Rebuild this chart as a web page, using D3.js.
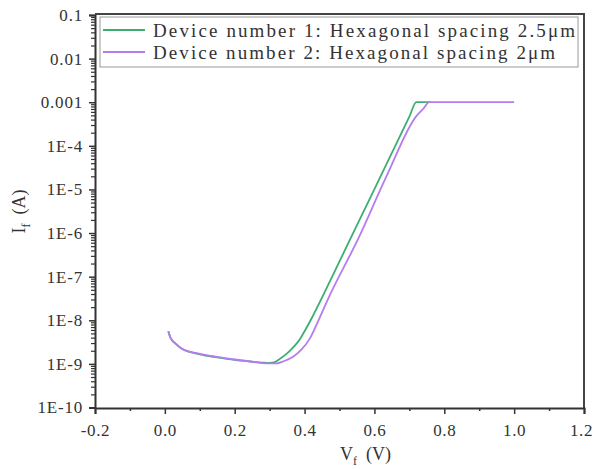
<!DOCTYPE html>
<html>
<head>
  <meta charset="utf-8">
  <script type="text/javascript" src="https://d3js.org/d3.v7.min.js" charset="utf-8"></script>
  <style>
    body { margin: 0; background: #fff; }
    text { font-family: "Liberation Serif", "DejaVu Serif", serif; fill: #333; }
  </style>
</head>
<body>
<div id="iv_chart"></div>

<script>
// data: forward voltage (V) and forward current (A)
var voltage1 = [0.01, 0.015, 0.02, 0.03, 0.05, 0.10, 0.15, 0.20, 0.25, 0.28, 0.30, 0.315, 0.33, 0.35, 0.37, 0.387, 0.40, 0.42, 0.453, 0.50, 0.60, 0.70, 0.72, 0.76];
var current1 = [5.62e-9, 4.17e-9, 3.55e-9, 2.95e-9, 2.19e-9, 1.66e-9, 1.41e-9, 1.23e-9, 1.12e-9, 1.07e-9, 1.05e-9, 1.10e-9, 1.32e-9, 1.74e-9, 2.51e-9, 3.72e-9, 5.62e-9, 1.10e-8, 3.72e-8, 2.24e-7, 1.02e-5, 4.68e-4, 1.0e-3, 1.0e-3];

var voltage2 = [0.01, 0.015, 0.02, 0.03, 0.05, 0.10, 0.15, 0.20, 0.25, 0.29, 0.32, 0.34, 0.367, 0.39, 0.415, 0.44, 0.472, 0.553, 0.635, 0.72, 0.74, 0.757, 1.0];
var current2 = [5.62e-9, 4.17e-9, 3.55e-9, 2.95e-9, 2.19e-9, 1.70e-9, 1.45e-9, 1.26e-9, 1.12e-9, 1.03e-9, 1.03e-9, 1.15e-9, 1.45e-9, 2.09e-9, 3.80e-9, 1.0e-8, 3.72e-8, 7.24e-7, 2.04e-5, 4.79e-4, 7.08e-4, 1.0e-3, 1.0e-3];

var seriesNames = ["Device number 1: Hexagonal spacing 2.5\u03bcm",
                   "Device number 2: Hexagonal spacing 2\u03bcm"];
var seriesColors = ["#3dae72", "#b57cf0"];

var xTicks = [-0.2, 0.0, 0.2, 0.4, 0.6, 0.8, 1.0, 1.2];
var xTickLabels = ["-0.2", "0.0", "0.2", "0.4", "0.6", "0.8", "1.0", "1.2"];
var xMinor = [-0.1, 0.1, 0.3, 0.5, 0.7, 0.9, 1.1];
var yTicks = [1e-1, 1e-2, 1e-3, 1e-4, 1e-5, 1e-6, 1e-7, 1e-8, 1e-9, 1e-10];
var yTickLabels = ["0.1", "0.01", "0.001", "1E-4", "1E-5", "1E-6", "1E-7", "1E-8", "1E-9", "1E-10"];

// set the dimensions and margins of the graph
var margin = {top: 15, right: 11, bottom: 61, left: 95},
    width = 595 - margin.left - margin.right,
    height = 469 - margin.top - margin.bottom;

var svg = d3.select("#iv_chart")
  .append("svg")
    .attr("width", 595)
    .attr("height", 469)
  .append("g")
    .attr("transform", "translate(" + margin.left + "," + margin.top + ")");

var x = d3.scaleLinear()
  .domain([-0.2, 1.2])
  .range([0, width]);

var y = d3.scaleLog()
  .domain([1e-10, 0.1])
  .range([height - 0.5, 0]);

// top and right frame lines
svg.append("path")
  .attr("d", "M0,-1H" + width + "V" + height)
  .attr("fill", "none")
  .attr("stroke", "#444")
  .attr("stroke-width", 2);

// minor ticks on Y (log)
var yMinor = [];
yTicks.forEach(function (t) {
  if (t < 0.1) {
    for (var k = 2; k <= 9; k++) yMinor.push(t * k);
  }
});
svg.append("g")
  .call(d3.axisLeft(y).tickValues(yMinor).tickSize(4).tickFormat(""))
  .call(function (g) { g.select(".domain").remove(); })
  .selectAll("line").attr("stroke", "#333").attr("stroke-width", 1.2);

// Y axis
var yAxis = svg.append("g")
  .call(d3.axisLeft(y).tickValues(yTicks).tickSize(6).tickPadding(6)
    .tickFormat(function (d, i) { return yTickLabels[i]; }));
yAxis.select(".domain").attr("stroke", "#333").attr("stroke-width", 2);
yAxis.selectAll(".tick line").attr("stroke", "#333").attr("stroke-width", 1.5);
yAxis.selectAll("text")
  .style("font-size", "17px")
  .style("letter-spacing", "0.8px")
  .attr("fill", "#333");

// minor ticks on X
svg.append("g")
  .attr("transform", "translate(0," + height + ")")
  .call(d3.axisBottom(x).tickValues(xMinor).tickSize(3).tickFormat(""))
  .call(function (g) { g.select(".domain").remove(); })
  .selectAll("line").attr("stroke", "#333").attr("stroke-width", 1.5);

// X axis
var xAxis = svg.append("g")
  .attr("transform", "translate(0," + height + ")")
  .call(d3.axisBottom(x).tickValues(xTicks).tickSize(6).tickPadding(10)
    .tickFormat(function (d, i) { return xTickLabels[i]; }));
xAxis.select(".domain").attr("stroke", "#333").attr("stroke-width", 2);
xAxis.selectAll(".tick line").attr("stroke", "#333").attr("stroke-width", 1.5);
xAxis.selectAll("text")
  .style("font-size", "17px")
  .style("letter-spacing", "0.6px")
  .attr("fill", "#333");
// last label sits on the page edge, nudge it in a bit
xAxis.selectAll("text").filter(function (d, i) { return i === xTicks.length - 1; })
  .attr("dx", -3);

// X label
var xl = svg.append("text")
  .attr("text-anchor", "middle")
  .attr("x", width / 2 + 26)
  .attr("y", height + 52)
  .style("font-size", "18px");
xl.append("tspan").text("V");
xl.append("tspan").attr("dy", 5).style("font-size", "12px").text("f");
xl.append("tspan").attr("dy", -5).text("\u2002(V)");

// Y label
var yl = svg.append("text")
  .attr("text-anchor", "middle")
  .attr("transform", "translate(" + (-70) + "," + (height / 2) + ") rotate(-90)")
  .style("font-size", "18px");
yl.append("tspan").text("I");
yl.append("tspan").attr("dy", 5).style("font-size", "12px").text("f");
yl.append("tspan").attr("dy", -5).text("\u2002(A)");

// lines
var line = d3.line()
  .x(function (d) { return x(d[0]); })
  .y(function (d) { return y(d[1]); })
  .curve(d3.curveMonotoneX);

var series = [d3.zip(voltage1, current1), d3.zip(voltage2, current2)];
series.forEach(function (s, i) {
  svg.append("path")
    .datum(s)
    .attr("fill", "none")
    .attr("stroke", seriesColors[i])
    .attr("stroke-width", 1.8)
    .attr("d", line);
});

// legend
var legend = svg.append("g").attr("transform", "translate(5,2)");
legend.append("rect")
  .attr("x", 0).attr("y", 0)
  .attr("width", 478).attr("height", 50)
  .attr("fill", "#fff")
  .attr("stroke", "#999")
  .attr("stroke-width", 1);
var textWidths = [422, 402];
seriesNames.forEach(function (name, i) {
  legend.append("line")
    .attr("x1", 3).attr("x2", 45)
    .attr("y1", 13 + i * 22).attr("y2", 13 + i * 22)
    .attr("stroke", seriesColors[i])
    .attr("stroke-width", 1.8);
  legend.append("text")
    .attr("x", 53)
    .attr("y", 20 + i * 22)
    .attr("textLength", textWidths[i])
    .attr("lengthAdjust", "spacing")
    .style("font-size", "19px")
    .text(name);
});
</script>
</body>
</html>
